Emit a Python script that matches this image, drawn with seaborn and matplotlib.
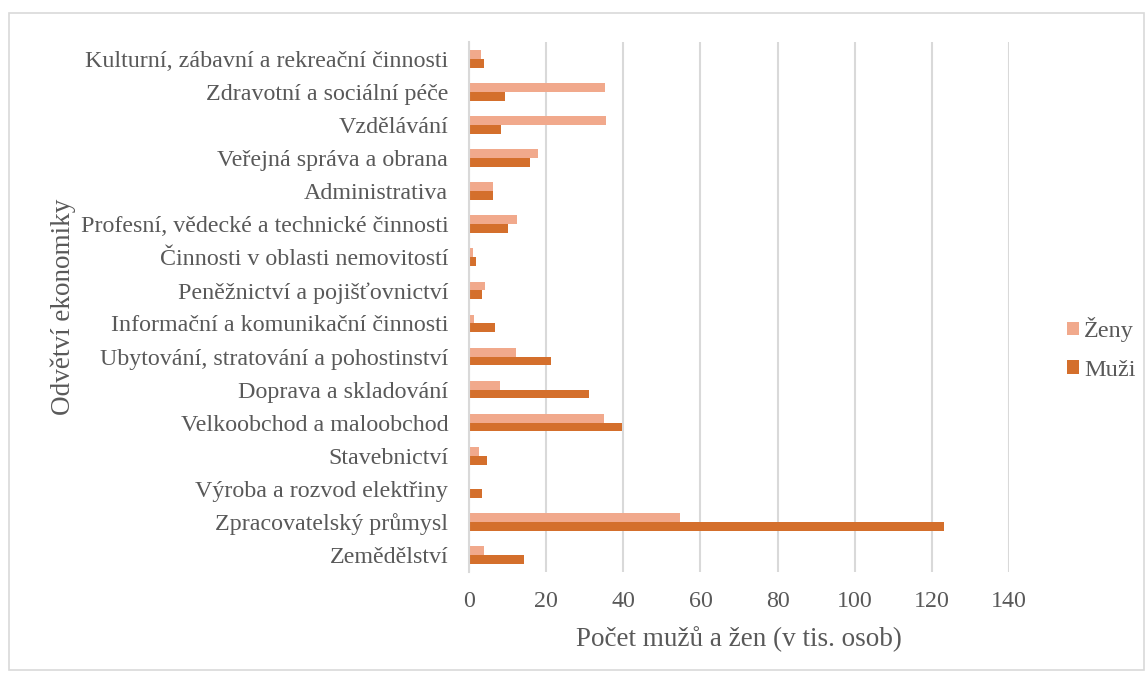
import pandas as pd
import seaborn as sns
import matplotlib.pyplot as plt
from matplotlib.patches import Rectangle

categories = [
    "Kulturní, zábavní a rekreační činnosti",
    "Zdravotní a sociální péče",
    "Vzdělávání",
    "Veřejná správa a obrana",
    "Administrativa",
    "Profesní, vědecké a technické činnosti",
    "Činnosti v oblasti nemovitostí",
    "Peněžnictví a pojišťovnictví",
    "Informační a komunikační činnosti",
    "Ubytování, stratování a pohostinství",
    "Doprava a skladování",
    "Velkoobchod a maloobchod",
    "Stavebnictví",
    "Výroba a rozvod elektřiny",
    "Zpracovatelský průmysl",
    "Zemědělství",
]
zeny = [3.0, 35.3, 35.4, 17.9, 6.3, 12.5, 1.0, 4.2, 1.4, 12.1, 8.1, 35.1, 2.5, 0.0, 54.8, 3.8]
muzi = [3.8, 9.3, 8.2, 15.7, 6.1, 10.0, 1.8, 3.3, 6.6, 21.3, 31.0, 39.6, 4.7, 3.3, 123.1, 14.2]
series = ["Ženy", "Muži"]
x_ticks = [0, 20, 40, 60, 80, 100, 120, 140]

df = pd.DataFrame({
    "odvetvi": categories * 2,
    "pohlavi": [series[0]] * len(categories) + [series[1]] * len(categories),
    "pocet": zeny + muzi,
})

sns.set_style("white")
plt.rcParams["font.family"] = ["Liberation Serif", "DejaVu Serif"]
text_col = "#595959"

fig = plt.figure(figsize=(11.46, 6.77), dpi=100)
ax = fig.add_axes([0.4093, 0.1558, 0.4712, 0.7818])

sns.barplot(data=df, y="odvetvi", x="pocet", hue="pohlavi", order=categories,
            hue_order=series, palette=["#F1A98C", "#D46F2C"], width=0.53,
            orient="h", ax=ax, saturation=1, linewidth=0)

ax.set_xlim(0, 140)
ax.set_xticks(x_ticks)
ax.grid(axis="x", color="#D9D9D9", linewidth=1.5)
ax.set_axisbelow(True)
for s in ["top", "right", "bottom"]:
    ax.spines[s].set_visible(False)
ax.spines["left"].set_color("#D9D9D9")
ax.spines["left"].set_linewidth(1.5)
ax.tick_params(axis="y", length=0, labelsize=17.3, colors=text_col, pad=15)
ax.tick_params(axis="x", length=0, labelsize=17.3, colors=text_col, pad=14)

ax.set_xlabel("Počet mužů a žen (v tis. osob)", fontsize=19.5, color=text_col, labelpad=10)
ax.set_ylabel("Odvětví ekonomiky", fontsize=19.5, color=text_col)
ax.yaxis.set_label_coords(-0.728, 0.5)

leg = ax.legend(loc="center left", bbox_to_anchor=(0.931, 0.4845),
                bbox_transform=fig.transFigure, frameon=False, borderpad=0,
                borderaxespad=0, fontsize=17.5, handlelength=0.5, handleheight=0.5,
                handletextpad=0.2, labelspacing=0.73)
for t in leg.get_texts():
    t.set_color(text_col)

fig.patches.append(Rectangle((0.008, 0.01), 0.99, 0.971, transform=fig.transFigure,
                             fill=False, edgecolor="#D9D9D9", linewidth=1.2))

fig.savefig("out.png", dpi=100)
